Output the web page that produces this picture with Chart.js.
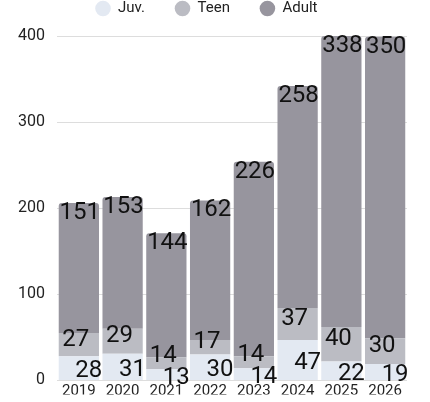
<!DOCTYPE html>
<html>
<head>
<meta charset="utf-8">
<script src="https://cdn.jsdelivr.net/npm/chart.js@4/dist/chart.umd.min.js"></script>
<style>
  html, body { margin: 0; padding: 0; background: #fff; }
  #wrap { width: 430px; height: 402px; position: relative; }
</style>
</head>
<body>
<div id="wrap"><canvas id="grafico"></canvas></div>
<script>
const anos = ['2019', '2020', '2021', '2022', '2023', '2024', '2025', '2026'];
const juv = [28, 31, 13, 30, 14, 47, 22, 19];
const teen = [27, 29, 14, 17, 14, 37, 40, 30];
const adult = [151, 153, 144, 162, 226, 258, 338, 350];

// rótulos grandes em cada segmento
const rotulos = {
  id: 'rotulos',
  afterLayout(chart) {
    // sobe a legenda um pouco
    chart.legend.top -= 10;
    chart.legend.bottom -= 10;
  },
  afterDatasetsDraw(chart) {
    const ctx = chart.ctx;
    ctx.save();
    ctx.font = '24px Roboto';
    ctx.fillStyle = '#111';
    ctx.textAlign = 'center';
    const mJuv = chart.getDatasetMeta(0).data;
    const mTeen = chart.getDatasetMeta(1).data;
    const mAdult = chart.getDatasetMeta(2).data;
    anos.forEach((a, i) => {
      // juv
      const bj = mJuv[i];
      const yJ = (bj.y + bj.base) / 2 + 3;
      ctx.textBaseline = 'middle';
      ctx.fillText(juv[i], bj.x + 10, yJ);
      // teen (sobe se encostar no juv)
      const bt = mTeen[i];
      const yT = Math.min((bt.y + bt.base) / 2 - 5, yJ - 22);
      ctx.fillText(teen[i], bt.x - 3, yT);
      // adult
      const ba = mAdult[i];
      ctx.textBaseline = 'top';
      ctx.fillText(adult[i], ba.x + 1, ba.y - 2);
    });
    ctx.restore();
  }
};

new Chart(document.getElementById('grafico'), {
  type: 'bar',
  data: {
    labels: anos,
    datasets: [
      { label: 'Juv.', data: juv, backgroundColor: '#e3e9f2' },
      { label: 'Teen', data: teen, backgroundColor: '#bbbcc3' },
      { label: 'Adult', data: adult, backgroundColor: '#97959e',
        borderRadius: { topLeft: 3, topRight: 3 }, borderSkipped: 'bottom' }
    ]
  },
  options: {
    responsive: true,
    maintainAspectRatio: false,
    animation: false,
    layout: { padding: { left: 6, right: 23, top: -19, bottom: 3 } },
    datasets: { bar: { barPercentage: 0.92, categoryPercentage: 1 } },
    plugins: {
      legend: {
        position: 'top',
        labels: {
          usePointStyle: true,
          pointStyle: 'circle',
          boxHeight: 11,
          padding: 30,
          color: '#222',
          font: { family: 'Roboto', size: 15 }
        }
      },
      tooltip: { enabled: false }
    },
    scales: {
      x: {
        stacked: true,
        grid: { display: false },
        border: { display: false },
        ticks: { color: '#222', font: { family: 'Roboto', size: 15 }, padding: -6, maxRotation: 0 }
      },
      y: {
        stacked: true,
        min: 0,
        max: 400,
        grid: { color: '#dddddd', drawTicks: false },
        border: { display: false },
        ticks: { stepSize: 100, color: '#222', font: { family: 'Roboto', size: 16 }, padding: 12 }
      }
    }
  },
  plugins: [rotulos]
});
</script>
</body>
</html>
